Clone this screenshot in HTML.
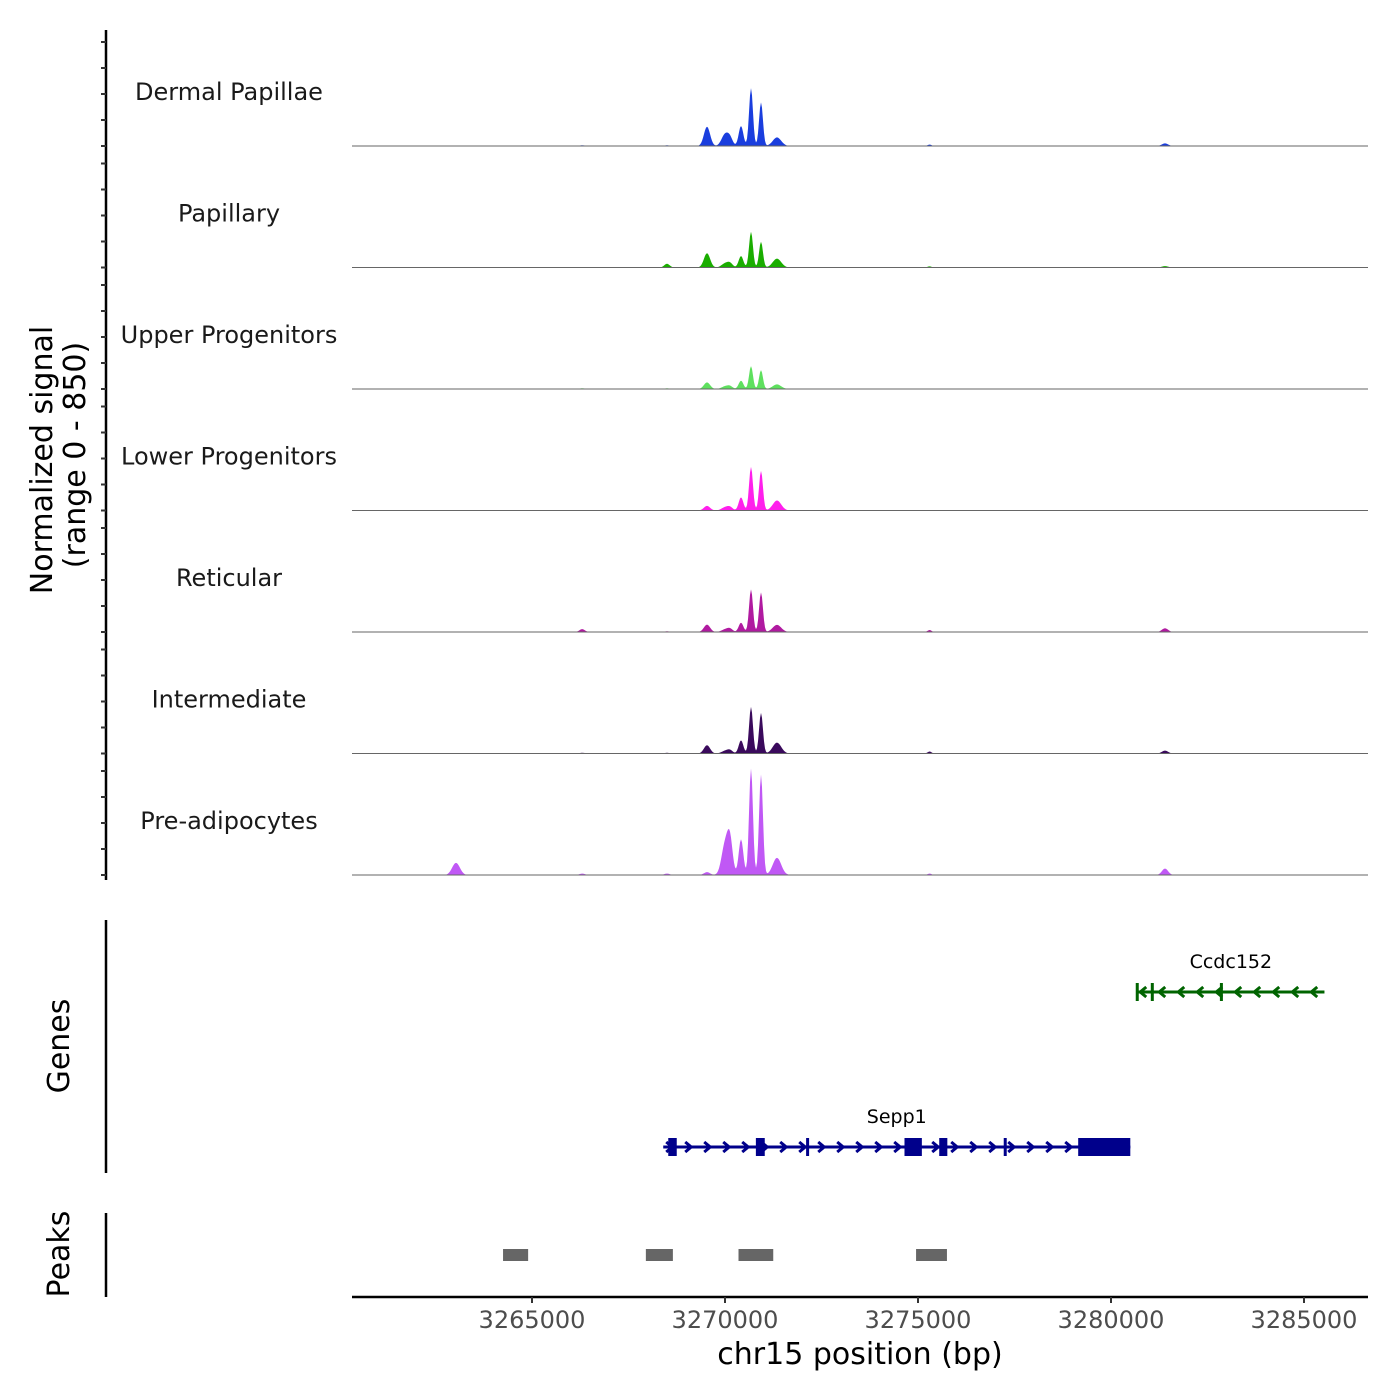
<!DOCTYPE html>
<html><head><meta charset="utf-8"><style>
body{margin:0;background:#fff}
svg{display:block;font-family:"DejaVu Sans","Liberation Sans",sans-serif}
</style></head><body>
<svg id="chart" width="1400" height="1400" viewBox="0 0 1400 1400"></svg>
<script>
const trackNames=["Dermal Papillae","Papillary","Upper Progenitors","Lower Progenitors","Reticular","Intermediate","Pre-adipocytes"];
const trackColors=["#1a3ede","#1aad00","#5ee05e","#ff1fec","#b01aa0","#3a0a5c","#c058f5"];
const peakCenters=[3263031,3268497,3269534,3270000,3270130,3270415,3270674,3270933,3271347,3275300,3281399,3266300];
const peakWidths=[100,70,80,90,70,60,50,50,110,50,80,70];
const hDermal=[0,5,135,80,50,140,405,305,60,10,18,5];
const hPapillary=[0,26,100,28,28,80,250,180,62,8,10,0];
const hUpper=[0,5,46,18,18,58,160,132,32,3,0,5];
const hLower=[0,0,32,22,22,92,305,277,70,3,0,0];
const hReticular=[3,5,52,18,22,65,298,277,50,14,26,20];
const hIntermediate=[3,5,58,18,22,92,326,284,76,14,20,5];
const hPre=[85,10,20,210,230,250,745,703,120,10,45,10];
const trackHeights=[hDermal,hPapillary,hUpper,hLower,hReticular,hIntermediate,hPre];
const xTicks=[3265000,3270000,3275000,3280000,3285000];
const peakRegions=[[3264250,3264900],[3267950,3268650],[3270350,3271250],[3274950,3275750]];
const sepp1Exons=[[3268530,3268750],[3270800,3271030],[3274650,3275100],[3275550,3275760],[3279150,3280500]];
const sepp1Marks=[3272140,3277260];
const ccdcMarks=[3280680,3281070,3282860];
const signalMax=850;

const NS="http://www.w3.org/2000/svg",svg=document.getElementById("chart");
function el(t,a,p){const e=document.createElementNS(NS,t);for(const k in a)e.setAttribute(k,a[k]);(p||svg).appendChild(e);return e;}
const X0=352,X1=1368,xMin=3260337,xMax=3286658;
const xs=v=>X0+(v-xMin)/(xMax-xMin)*(X1-X0);
const trackH=121.5,base0=146;
const ys=(v,b)=>b-v/signalMax*trackH;

let ax=el("line",{x1:106,y1:30,x2:106,y2:880,stroke:"#000","stroke-width":2.5});

trackHeights.forEach((hs,i)=>{
  const b=base0+i*trackH;
  for(let k=0;k<5;k++){const y=b-k*26;const t=el("line",{x1:101,y1:y,x2:106,y2:y,stroke:"#333","stroke-width":2});
    }
  let d="M"+X0+","+b;
  for(let px=X0;px<=X1;px+=1){
    const v=xMin+(px-X0)/(X1-X0)*(xMax-xMin);
    let s=0;hs.forEach((h,j)=>{const z=(v-peakCenters[j])/peakWidths[j];s+=h*Math.exp(-0.5*z*z);});
    d+=" L"+px+","+ys(s,b).toFixed(2);
  }
  d+=" L"+X1+","+b+" Z";
  const p=el("path",{d:d,fill:trackColors[i]});
  
  const bl=el("line",{x1:X0,y1:b,x2:X1,y2:b,stroke:"#666","stroke-width":1});
  
  const lb=el("text",{x:229,y:b-46,"font-size":24,"text-anchor":"middle",fill:"#1a1a1a"});
  lb.textContent=trackNames[i];
  
});
let yt=el("text",{transform:"translate(52,460) rotate(-90)","font-size":30,"text-anchor":"middle"});
yt.textContent="Normalized signal";
let yt2=el("text",{transform:"translate(85,455) rotate(-90)","font-size":30,"text-anchor":"middle"});
yt2.textContent="(range 0 - 850)";

let ga=el("line",{x1:106,y1:920,x2:106,y2:1173,stroke:"#000","stroke-width":2.5});

let gt=el("text",{transform:"translate(69,1046) rotate(-90)","font-size":30,"text-anchor":"middle"});
gt.textContent="Genes";
function gene(name,start,end,y,color,dir,exons,marks){
  const g=el("g",{});
  el("line",{x1:xs(start),y1:y,x2:xs(end),y2:y,stroke:color,"stroke-width":3},g);
  for(let px=xs(start)+6;px<xs(end);px+=19){el("path",{d:dir>0?`M${px-3},${y-5} L${px+3},${y} L${px-3},${y+5}`:`M${px+3},${y-5} L${px-3},${y} L${px+3},${y+5}`,stroke:color,"stroke-width":3,fill:"none"},g);}
  exons.forEach(e=>el("rect",{x:xs(e[0]),y:y-9,width:xs(e[1])-xs(e[0]),height:18,fill:color},g));
  marks.forEach(m=>el("rect",{x:xs(m)-1.5,y:y-9,width:3,height:18,fill:color},g));
  const t=el("text",{x:(xs(start)+xs(end))/2,y:y-24,"font-size":19,"text-anchor":"middle",fill:"#000"},g);t.textContent=name;
}
gene("Sepp1",3268400,3280500,1147,"#00008b",1,sepp1Exons,sepp1Marks);
gene("Ccdc152",3280680,3285530,992,"#006400",-1,[],ccdcMarks);

let pa=el("line",{x1:106,y1:1213,x2:106,y2:1297,stroke:"#000","stroke-width":2.5});

let pt=el("text",{transform:"translate(69,1254) rotate(-90)","font-size":30,"text-anchor":"middle"});
pt.textContent="Peaks";
peakRegions.forEach(r=>{const b=el("rect",{x:xs(r[0]),y:1249,width:xs(r[1])-xs(r[0]),height:12,fill:"#666"});
  });

let xa=el("line",{x1:X0,y1:1297,x2:X1,y2:1297,stroke:"#000","stroke-width":2.5});

xTicks.forEach(v=>{const t=el("line",{x1:xs(v),y1:1297,x2:xs(v),y2:1303,stroke:"#333","stroke-width":2});
  
  const l=el("text",{x:xs(v),y:1328,"font-size":24,"text-anchor":"middle",fill:"#4d4d4d"});l.textContent=v;
  });
let xt=el("text",{x:860,y:1364,"font-size":30,"text-anchor":"middle"});
xt.textContent="chr15 position (bp)";
</script>
</body></html>
